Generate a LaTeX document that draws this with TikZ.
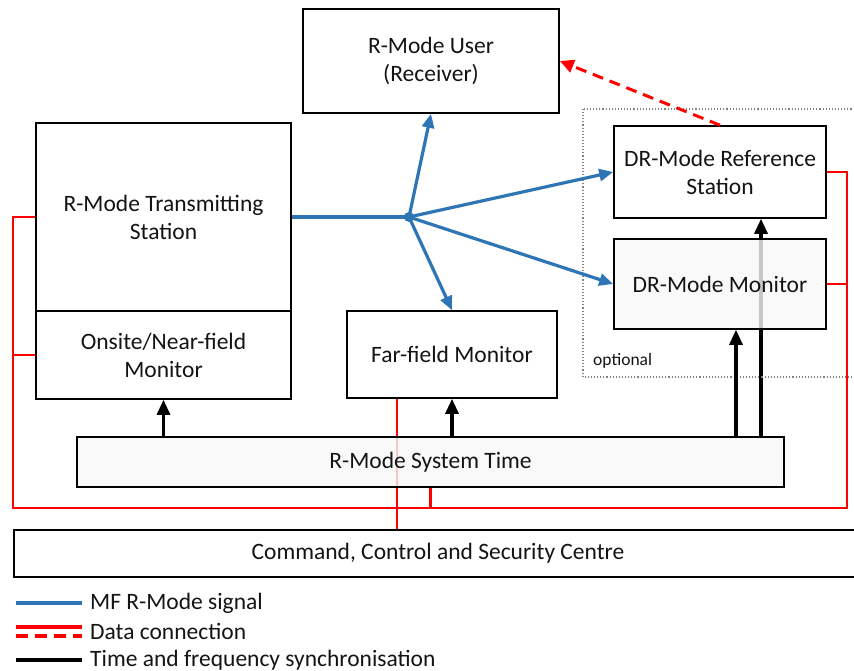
\documentclass[tikz,border=0pt]{standalone}
\usepackage{fontspec}
\setmainfont{Carlito}
\usetikzlibrary{arrows.meta,backgrounds,calc}
\definecolor{sigblue}{RGB}{46,117,182}
\definecolor{datared}{RGB}{255,0,0}
\definecolor{txt}{RGB}{20,20,20}
\definecolor{boxgray}{RGB}{248,248,248}
\begin{document}
\begin{tikzpicture}[x=1pt,y=-1pt,
  font=\fontsize{23.5}{28}\selectfont,
  box/.style={draw=black, line width=1.6pt, fill=white, inner sep=0pt, align=center, text=txt},
  graybox/.style={box, fill=boxgray, fill opacity=0.8, text opacity=1},
  sig/.style={draw=sigblue, line width=3.2pt, -{Triangle[length=14pt,width=12pt]}},
  sigline/.style={draw=sigblue, line width=3.2pt},
  data/.style={draw=datared, line width=2.6pt},
  datadash/.style={draw=datared, line width=3pt, dash pattern=on 11pt off 7pt, -{Triangle[length=14pt,width=13pt]}},
  sync/.style={draw=black, line width=3.2pt, -{Triangle[length=15pt,width=13pt]}},
  legtext/.style={anchor=west, inner sep=0pt, text=txt}
]
\useasboundingbox (0,0) rectangle (854,671);

% optional dotted region
\draw[gray, line width=1.1pt, dotted] (583,109) rectangle (860,377);
\node[anchor=west, inner sep=0pt, text=txt, font=\fontsize{17.5}{20}\selectfont] (opt) at (593,361) {optional};

% boxes
\node[box, minimum width=256pt, minimum height=104pt] (user) at (431,61) {R-Mode User\\(Receiver)};
\node[box, minimum width=255pt, minimum height=188pt] (ts) at (163.5,217) {R-Mode Transmitting\\Station};
\node[box, minimum width=255pt, minimum height=88pt] (onsite) at (163.5,355) {Onsite/Near-field\\Monitor};
\node[box, minimum width=210pt, minimum height=87pt] (far) at (452,354.5) {Far-field Monitor};
\node[box, minimum width=212pt, minimum height=92pt] (drref) at (720,172) {DR-Mode Reference\\Station};
\node[graybox, minimum width=212pt, minimum height=90pt] (drmon) at (720,284) {DR-Mode Monitor};
\node[graybox, minimum width=707pt, minimum height=50pt] (systime) at (430.5,462) {R-Mode System Time};
\node[box, minimum width=848pt, minimum height=47pt] (ccsc) at (438,553.5) {Command, Control and Security Centre};

% lines passing behind translucent boxes
\begin{pgfonlayer}{background}
  \draw[data] ([xshift=-55pt]far.south) -- ([xshift=-55pt]far.south |- ccsc.north);
  \draw[sync] ([xshift=41pt]drmon.south |- systime.north) -- ([xshift=41pt]drref.south);
\end{pgfonlayer}

% MF R-Mode signal
\coordinate (j) at (409,217);
\draw[sigline] (ts.east |- j) -- (j);
\fill[sigblue] (j) circle (5pt);
\draw[sig] (j) -- (user.south);
\draw[sig] (j) -- (far.north);
\draw[sig] (j) -- (drref.west);
\draw[sig] (j) -- (drmon.west);

% data connections
\coordinate (rl) at (13,508);
\coordinate (rr) at (847,508);
\draw[data] (ts.west) -- (rl |- ts.west) -- (rl) -- (rr) -- (rr |- drref.east) -- (drref.east);
\draw[data] (onsite.west) -- (rl |- onsite.west);
\draw[data] (drmon.east) -- (rr |- drmon.east);
\draw[data] (systime.south) -- (systime.south |- rl);
\draw[datadash] (drref.north) -- (user.east);

% time and frequency synchronisation
\draw[sync] (onsite.south |- systime.north) -- (onsite.south);
\draw[sync] (far.south |- systime.north) -- (far.south);
\draw[sync] ([xshift=16pt]drmon.south |- systime.north) -- ([xshift=16pt]drmon.south);

% legend
\coordinate (l1a) at (16,603); \coordinate (l1b) at (82,603);
\coordinate (l2a) at (16,627); \coordinate (l2b) at (82,627);
\coordinate (l3a) at (16,636); \coordinate (l3b) at (82,636);
\coordinate (l4a) at (16,660); \coordinate (l4b) at (82,660);
\draw[sigblue, line width=3.2pt] (l1a) -- (l1b);
\draw[datared, line width=3.2pt] (l2a) -- (l2b);
\draw[datared, line width=3.2pt, dash pattern=on 12pt off 7pt] (l3a) -- (l3b);
\draw[black, line width=3.2pt] (l4a) -- (l4b);
\node[legtext] (t1) at (90,603) {MF R-Mode signal};
\node[legtext] (t2) at (90,631) {Data connection};
\node[legtext] (t3) at (90,660) {Time and frequency synchronisation};
\end{tikzpicture}
\end{document}
